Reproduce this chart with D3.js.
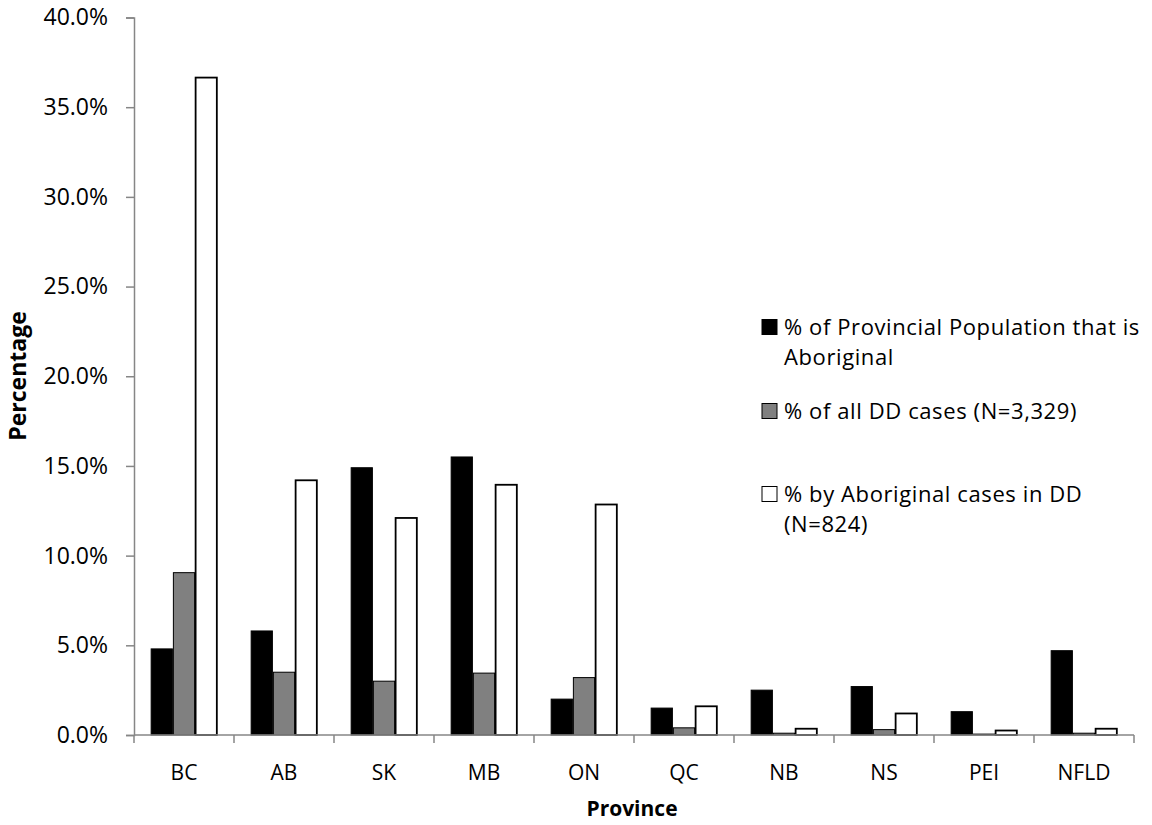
<!DOCTYPE html>
<html>
<head>
<meta charset="utf-8">
<script src="https://cdn.jsdelivr.net/npm/d3@7"></script>
<style>
  html, body { margin: 0; padding: 0; background: #fff; }
  svg text { font-family: "Open Sans", Lato, sans-serif; fill: #000; }
</style>
</head>
<body>
<svg id="chart" width="1152" height="825"></svg>
<script>
// Provinces along the category axis
const provinces = ["BC", "AB", "SK", "MB", "ON", "QC", "NB", "NS", "PEI", "NFLD"];

// Percent values per province, one array per series
const popAboriginal = [4.8, 5.8, 14.9, 15.5, 2.0, 1.5, 2.5, 2.7, 1.3, 4.7];
const allDDCases = [9.05, 3.5, 3.0, 3.45, 3.2, 0.4, 0.1, 0.3, 0.05, 0.1];
const aboriginalDDCases = [36.65, 14.2, 12.1, 13.95, 12.85, 1.6, 0.35, 1.2, 0.25, 0.35];

const seriesNames = [
  ["% of Provincial Population that is", "Aboriginal"],
  ["% of all DD cases (N=3,329)"],
  ["% by Aboriginal cases in DD", "(N=824)"]
];
const seriesValues = [popAboriginal, allDDCases, aboriginalDDCases];
const seriesFill = ["#000000", "#808080", "#ffffff"];

const yTicks = [0, 5, 10, 15, 20, 25, 30, 35, 40];

const svg = d3.select("#chart");
const plotLeft = 134, plotRight = 1134, plotTop = 17.5, plotBottom = 735;
const axisColor = "#868686";

const x = d3.scaleBand().domain(provinces).range([plotLeft, plotRight])
  .paddingInner(1 / 3).paddingOuter(1 / 6);
const xs = d3.scaleBand().domain(d3.range(seriesValues.length)).range([0, x.bandwidth()]);
const y = d3.scaleLinear().domain([0, 40]).range([plotBottom, plotTop]);

// Bars
seriesValues.forEach((vals, si) => {
  svg.append("g").selectAll("rect")
    .data(vals.map((v, i) => ({ p: provinces[i], v })))
    .join("rect")
    .attr("x", d => x(d.p) + xs(si) + 0.5)
    .attr("y", d => y(d.v))
    .attr("width", xs.bandwidth() - 1)
    .attr("height", d => y(0) - y(d.v))
    .attr("fill", seriesFill[si])
    .attr("stroke", "#000")
    .attr("stroke-width", si === 2 ? 1.8 : 1);
});

// Y axis
const yAxis = svg.append("g").attr("transform", `translate(${plotLeft},0)`)
  .call(d3.axisLeft(y).tickValues(yTicks).tickSize(8).tickPadding(18)
    .tickFormat(d => d.toFixed(1) + "%"));
yAxis.select(".domain").attr("stroke", axisColor).attr("stroke-width", 1.5);
yAxis.selectAll(".tick line").attr("stroke", axisColor).attr("stroke-width", 1.5);
yAxis.selectAll(".tick text").attr("font-size", 23).attr("fill", "#000")
  .style("font-family", "'Open Sans', Lato, sans-serif");

// X axis baseline and category boundary ticks
const xAxis = svg.append("g");
xAxis.append("line").attr("x1", plotLeft).attr("x2", plotRight).attr("y1", plotBottom).attr("y2", plotBottom)
  .attr("stroke", axisColor).attr("stroke-width", 1.5);
const bounds = provinces.map(p => x(p) - x.step() * x.paddingInner() / 2);
bounds.push(plotRight);
xAxis.selectAll("line.tk").data(bounds).join("line").attr("class", "tk")
  .attr("x1", d => d).attr("x2", d => d).attr("y1", plotBottom).attr("y2", plotBottom + 8)
  .attr("stroke", axisColor).attr("stroke-width", 1.5);
xAxis.selectAll("text").data(provinces).join("text")
  .attr("x", d => x(d) + x.bandwidth() / 2).attr("y", 780)
  .attr("text-anchor", "middle").attr("font-size", 21).text(d => d);

// Axis titles
svg.append("text").attr("x", (plotLeft + plotRight) / 2 - 2).attr("y", 816)
  .attr("text-anchor", "middle").attr("font-size", 21).attr("font-weight", "bold").text("Province");
svg.append("text").attr("transform", "translate(26,376) rotate(-90)")
  .attr("text-anchor", "middle").attr("font-size", 23).attr("font-weight", "bold").text("Percentage");

// Legend
const legendCenters = [327, 411, 494];
seriesNames.forEach((lines, i) => {
  const g = svg.append("g");
  g.append("rect").attr("x", 762).attr("y", legendCenters[i] - 7.5).attr("width", 15).attr("height", 15)
    .attr("fill", seriesFill[i]).attr("stroke", "#000").attr("stroke-width", 1);
  lines.forEach((t, j) => {
    g.append("text").attr("x", 784).attr("y", legendCenters[i] + 8 + j * 30)
      .attr("font-size", 22).attr("letter-spacing", 0.6).text(t);
  });
});
</script>
</body>
</html>
